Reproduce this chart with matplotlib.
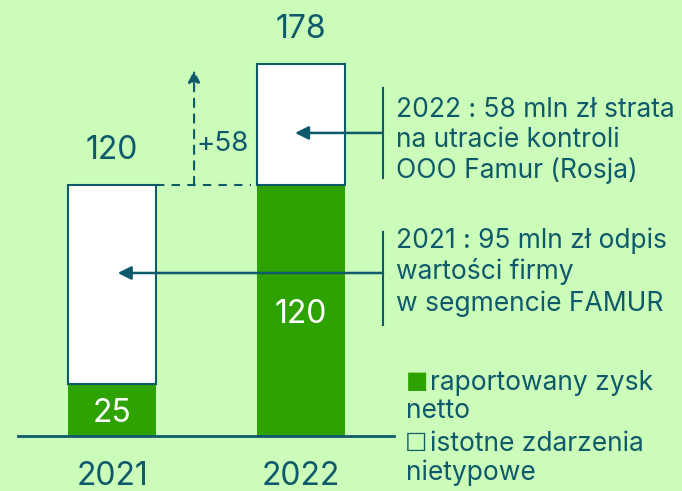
import matplotlib
matplotlib.use("Agg")
import matplotlib.pyplot as plt

plt.rcParams['font.family'] = ['Inter', 'DejaVu Sans']

BG = "#ccfcb9"
GREEN = "#2ea200"
TEAL = "#0f5a6a"

years = ["2021", "2022"]
reported = [25, 120]
events = [95, 58]
totals = [120, 178]
delta = "+58"
note_2022 = "2022 : 58 mln zł strata\nna utracie kontroli\nOOO Famur (Rosja)"
note_2021 = "2021 : 95 mln zł odpis\nwartości firmy\nw segmencie FAMUR"

fig = plt.figure(figsize=(6.82, 4.91), dpi=100, facecolor=BG)
ax = fig.add_axes([0, 0, 1, 1])
ax.set_facecolor(BG)
ax.set_xlim(-0.593, 3.016)
ax.set_ylim(-26.3, 208.6)
ax.axis("off")

x = list(range(len(years)))
w = 0.466
ax.bar(x, reported, width=w, color=GREEN, edgecolor=GREEN, linewidth=0)
ax.bar(x, events, bottom=reported, width=w, color="white", edgecolor=TEAL, linewidth=1.5)

# baseline
ax.plot([-0.5, 1.49], [0, 0], color=TEAL, lw=2)

fs = 23
for i in x:
    ax.text(i, -19.3, years[i], ha="center", va="center", color=TEAL, fontsize=fs)
    ax.text(i, totals[i] + 16.5, str(totals[i]), ha="center", va="center", color=TEAL, fontsize=fs)
    ax.text(i, reported[i] / 2 - 1.8, str(reported[i]), ha="center", va="center", color="white", fontsize=fs)

# dashed reference line and delta arrow
ax.plot([w / 2, 1 - w / 2 - 0.03], [totals[0], totals[0]], color=TEAL, lw=1.5, ls=(0, (4, 3.5)))
ax.annotate("", xy=(0.434, 175), xytext=(0.434, totals[0]),
            arrowprops=dict(arrowstyle="-|>", color=TEAL, lw=1.5, ls=(0, (4, 3.5)),
                            mutation_scale=18, shrinkA=0, shrinkB=0))
ax.text(0.445, 139.7, delta, ha="left", va="center", color=TEAL, fontsize=20)

# callouts
bx = 1.434
ax.plot([bx, bx], [123.4, 166.5], color=TEAL, lw=1.5)
ax.annotate("", xy=(0.968, 145), xytext=(bx, 145),
            arrowprops=dict(arrowstyle="-|>", color=TEAL, lw=1.8, mutation_scale=20,
                            shrinkA=0, shrinkB=0))
ax.plot([bx, bx], [53.1, 97.6], color=TEAL, lw=1.5)
ax.annotate("", xy=(0.03, 78), xytext=(bx, 78),
            arrowprops=dict(arrowstyle="-|>", color=TEAL, lw=1.8, mutation_scale=20,
                            shrinkA=0, shrinkB=0))
ax.text(1.503, 141.5, note_2022, ha="left", va="center", color=TEAL, fontsize=19, linespacing=1.22)
ax.text(1.503, 78.5, note_2021, ha="left", va="center", color=TEAL, fontsize=19, linespacing=1.22)

# legend
ax.text(1.555, 26.3, "■", ha="left", va="center", color=GREEN, fontsize=17,
        family=["DejaVu Sans"])
ax.text(1.683, 25.5, "raportowany zysk", ha="left", va="center", color=TEAL, fontsize=19)
ax.text(1.556, 12, "netto", ha="left", va="center", color=TEAL, fontsize=19)
ax.text(1.548, -3.8, "☐", ha="left", va="center", color=TEAL, fontsize=18,
        family=["DejaVu Sans"], fontweight="bold")
ax.text(1.683, -3.8, "istotne zdarzenia", ha="left", va="center", color=TEAL, fontsize=19)
ax.text(1.556, -17.5, "nietypowe", ha="left", va="center", color=TEAL, fontsize=19)

fig.savefig("out.png", dpi=100, facecolor=BG)
